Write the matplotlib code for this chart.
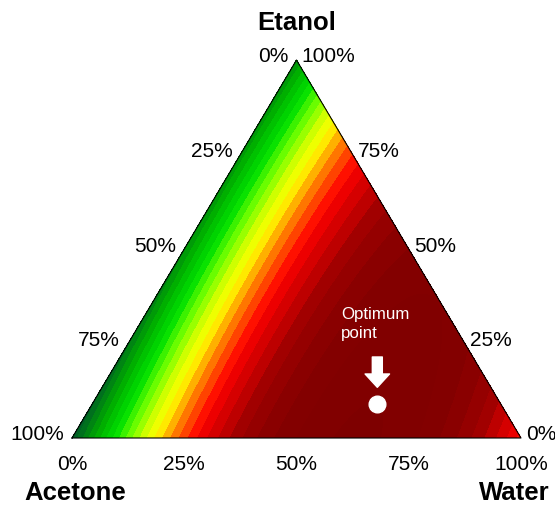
import numpy as np
import matplotlib
matplotlib.use("Agg")
import matplotlib.pyplot as plt
import matplotlib.tri as mtri
from matplotlib.colors import LinearSegmentedColormap, Normalize

plt.rcParams['font.family'] = ['Liberation Sans', 'DejaVu Sans']

# Mixture model (Scheffe quadratic)
components = ['Acetone', 'Etanol', 'Water']
linear_coef = [0.0, 0.12, 0.70]      # Acetone, Etanol, Water
pair_coef = [0.20, 2.60, 2.20]       # Acetone*Etanol, Acetone*Water, Etanol*Water

# optimum point (fractions Acetone, Etanol, Water)
optimum = [0.275, 0.09, 0.635]

tick_vals = [0, 25, 50, 75, 100]
tick_labels = ['0%', '25%', '50%', '75%', '100%']

# colour scale for the bands (response value -> colour)
band_vals = [0.00, 0.08, 0.16, 0.29, 0.385, 0.47, 0.524, 0.589, 0.65,
             0.711, 0.79, 0.865, 0.956, 1.10]
band_cols = ['#005a28', '#007a18', '#00a800', '#00e000', '#70ff00', '#d8ff00',
             '#ffff00', '#ffa000', '#ff5000', '#ff0000', '#d00000', '#a00000',
             '#850000', '#7c0000']


def to_xy(a, e, w):
    # acetone bottom-left, water bottom-right, etanol on top
    return w + e / 2.0, e


fig = plt.figure(figsize=(5.55, 5.05), dpi=100)
ax = fig.add_axes([0, 0, 1, 1])
ax.set_xlim(-72 / 449, (555 - 72) / 449)
ax.set_ylim(-67 / 378, (505 - 67) / 378)
ax.axis('off')

# grid over the simplex
n = 160
A, E, W = [], [], []
for i in range(n + 1):
    for j in range(n + 1 - i):
        e = i / n
        w = j / n
        E.append(e)
        W.append(w)
        A.append(1 - e - w)
A, E, W = np.array(A), np.array(E), np.array(W)
z = (linear_coef[0] * A + linear_coef[1] * E + linear_coef[2] * W
     + pair_coef[0] * A * E + pair_coef[1] * A * W + pair_coef[2] * E * W)

x, y = to_xy(A, E, W)
tri = mtri.Triangulation(x, y)

vmax = band_vals[-1]
cmap = LinearSegmentedColormap.from_list(
    'band', list(zip(np.array(band_vals) / vmax, band_cols)))
levels = np.arange(0, 1.12, 0.04)
ax.tricontourf(tri, z, levels=levels, cmap=cmap, norm=Normalize(0, vmax),
               extend='both', antialiased=False)

# triangle outline
cx, cy = to_xy(np.array([1, 0, 0, 1]), np.array([0, 0, 1, 0]), np.array([0, 1, 0, 0]))
ax.plot(cx, cy, color='black', lw=0.8)

fs = 15
# left edge: acetone percent
for v, lab in zip(tick_vals, tick_labels):
    f = v / 100
    px, py = to_xy(f, 1 - f, 0)
    ax.annotate(lab, (px, py), xytext=(-8, 3), textcoords='offset pixels',
                ha='right', va='center', fontsize=fs)
# right edge: etanol percent
for v, lab in zip(tick_vals, tick_labels):
    f = v / 100
    px, py = to_xy(0, f, 1 - f)
    ax.annotate(lab, (px, py), xytext=(5, 3), textcoords='offset pixels',
                ha='left', va='center', fontsize=fs)
# bottom edge: water percent
for v, lab in zip(tick_vals, tick_labels):
    f = v / 100
    px, py = to_xy(1 - f, 0, f)
    ax.annotate(lab, (px, py), xytext=(0, -27), textcoords='offset pixels',
                ha='center', va='center', fontsize=fs)

# corner titles
px, py = to_xy(0, 1, 0)
ax.annotate('Etanol', (px, py), xytext=(0, 37), textcoords='offset pixels',
            ha='center', va='center', fontsize=18.5, fontweight='bold')
px, py = to_xy(1, 0, 0)
ax.annotate('Acetone', (px, py), xytext=(3, -55), textcoords='offset pixels',
            ha='center', va='center', fontsize=18.5, fontweight='bold')
px, py = to_xy(0, 0, 1)
ax.annotate('Water', (px, py), xytext=(-7, -55), textcoords='offset pixels',
            ha='center', va='center', fontsize=18.5, fontweight='bold')

# optimum point
ox, oy = to_xy(*optimum)
ax.plot(ox, oy, 'o', color='white', ms=12, mec='white')
ax.annotate('', xy=(ox, oy), xytext=(0, 47), textcoords='offset pixels',
            arrowprops=dict(arrowstyle='simple,head_length=0.6,head_width=1.1,tail_width=0.45',
                            color='white', shrinkA=0, shrinkB=12, mutation_scale=16))
ax.annotate('Optimum\npoint', (ox, oy), xytext=(-36, 80), textcoords='offset pixels',
            ha='left', va='center', fontsize=12.2, color='white', linespacing=1.35)

fig.savefig('out.png', dpi=100)
